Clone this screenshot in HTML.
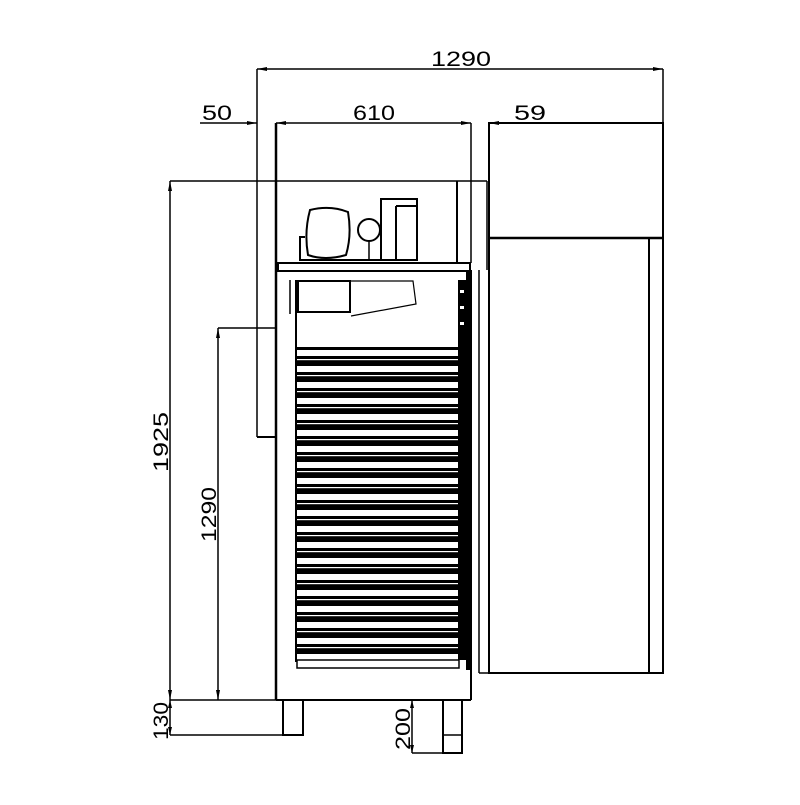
<!DOCTYPE html>
<html><head><style>html,body{margin:0;padding:0;background:#fff}</style></head>
<body>
<svg width="800" height="800" viewBox="0 0 800 800" xmlns="http://www.w3.org/2000/svg" font-family="Liberation Sans, sans-serif">
<defs>
<pattern id="sh" x="0" y="347" width="10" height="16" patternUnits="userSpaceOnUse">
<rect x="0" y="0" width="10" height="16" fill="#000"/>
<rect x="0" y="3" width="10" height="6" fill="#fff"/>
<rect x="0" y="12" width="10" height="1.2" fill="#fff"/>
</pattern>
</defs>
<g stroke="#000" fill="none" stroke-width="1.5">
<!-- top dims -->
<line x1="257" y1="69" x2="663" y2="69"/>
<line x1="257" y1="69" x2="257" y2="437"/>
<line x1="663" y1="69" x2="663" y2="238"/>
<line x1="200" y1="123" x2="257" y2="123"/>
<line x1="276" y1="123" x2="471" y2="123"/>
<line x1="489" y1="123" x2="548" y2="123"/>
<line x1="471" y1="123" x2="471" y2="263"/>
<line x1="170" y1="181" x2="487" y2="181"/>
<!-- right door -->
<rect x="489" y="123" width="174" height="550" stroke-width="2"/>
<line x1="489" y1="238" x2="663" y2="238" stroke-width="2.5"/>
<line x1="649" y1="238" x2="649" y2="673" stroke-width="2"/>
<line x1="479" y1="270" x2="479" y2="673" stroke-width="1.5"/>
<line x1="479" y1="673" x2="489" y2="673"/>
<line x1="457" y1="181" x2="457" y2="263" stroke-width="2"/>
<line x1="487" y1="181" x2="487" y2="270" />
<!-- body -->
<line x1="276" y1="123" x2="276" y2="700" stroke-width="2.5"/>
<line x1="257" y1="437" x2="276" y2="437" stroke-width="2"/>
<line x1="218" y1="328" x2="276" y2="328"/>
<line x1="471" y1="270" x2="471" y2="700" stroke-width="2"/>
<line x1="276" y1="700" x2="471" y2="700" stroke-width="2"/>
<rect x="278" y="263" width="192" height="8" stroke-width="2"/>
<!-- compressor -->
<path d="M310 210 Q330 205 348 212 Q352 235 346 255 Q325 261 308 255 Q304 232 310 210Z" stroke-width="2"/>
<path d="M305 237 L300 237 L300 260 L356 260" stroke-width="2"/>
<circle cx="369" cy="230" r="11" stroke-width="2"/>
<line x1="369" y1="241" x2="369" y2="260" stroke-width="1.5"/>
<rect x="381" y="199" width="36" height="61" stroke-width="2"/>
<line x1="396" y1="206" x2="396" y2="260" stroke-width="2"/>
<line x1="396" y1="206" x2="417" y2="206" stroke-width="2"/>
<line x1="300" y1="260" x2="417" y2="260" stroke-width="2"/>
<!-- interior -->
<rect x="298" y="281" width="52" height="31" stroke-width="2"/>
<path d="M350 281 L413 281 L416 304 L351 316" stroke-width="1.2"/>
<line x1="290" y1="280" x2="290" y2="314"/>
<line x1="296" y1="280" x2="296" y2="662" stroke-width="2"/>
</g>
<rect x="297" y="347" width="168" height="313" fill="url(#sh)"/>
<rect x="458" y="280" width="8" height="380" fill="#000"/>
<rect x="466" y="270" width="6" height="400" fill="#000"/>
<g fill="#fff">
<rect x="460" y="290" width="4" height="3"/><rect x="460" y="306" width="4" height="3"/><rect x="460" y="322" width="4" height="3"/>
</g>
<rect x="297" y="660" width="162" height="8" fill="#fff" stroke="#000" stroke-width="1.5"/>
<g stroke="#000" fill="none" stroke-width="1.5">
<!-- left dims -->
<line x1="170" y1="181" x2="170" y2="735"/>
<line x1="218" y1="328" x2="218" y2="700"/>
<line x1="170" y1="700" x2="276" y2="700"/>
<line x1="170" y1="735" x2="300" y2="735"/>
<!-- feet -->
<rect x="283" y="700" width="20" height="35" stroke-width="2"/>
<rect x="443" y="700" width="19" height="53" stroke-width="2"/>
<line x1="443" y1="735" x2="462" y2="735"/>
<line x1="412" y1="700" x2="412" y2="753"/>
<line x1="412" y1="753" x2="462" y2="753"/>
</g>
<g fill="#000">
<path d="M257 69 l10 -2 v4z"/><path d="M663 69 l-10 -2 v4z"/>
<path d="M257 123 l-10 -2 v4z"/><path d="M276 123 l10 -2 v4z"/><path d="M471 123 l-10 -2 v4z"/><path d="M489 123 l10 -2 v4z"/>
<path d="M170 181 l-2 10 h4z"/><path d="M218 328 l-2 10 h4z"/>
<path d="M170 700 l-2 -10 h4z"/><path d="M218 700 l-2 -10 h4z"/>
<path d="M170 700 l-2 8 h4z"/><path d="M170 735 l-2 -8 h4z"/>
<path d="M412 700 l-2 8 h4z"/><path d="M412 753 l-2 -8 h4z"/>
</g>
<g font-size="21" fill="#000">
<text x="431" y="66" textLength="60" lengthAdjust="spacingAndGlyphs">1290</text>
<text x="202" y="120" textLength="30" lengthAdjust="spacingAndGlyphs">50</text>
<text x="353" y="120" textLength="42" lengthAdjust="spacingAndGlyphs">610</text>
<text x="514" y="120" textLength="32" lengthAdjust="spacingAndGlyphs">59</text>
<text transform="translate(168,472) rotate(-90)" textLength="60" lengthAdjust="spacingAndGlyphs">1925</text>
<text transform="translate(216,542) rotate(-90)" textLength="55" lengthAdjust="spacingAndGlyphs">1290</text>
<text transform="translate(168,740) rotate(-90)" textLength="38" lengthAdjust="spacingAndGlyphs">130</text>
<text transform="translate(410,750) rotate(-90)" textLength="42" lengthAdjust="spacingAndGlyphs">200</text>
</g>
</svg>
</body></html>
